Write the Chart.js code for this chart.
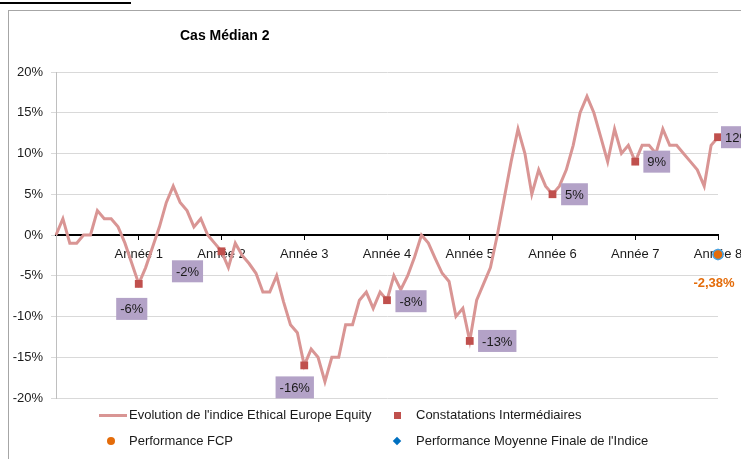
<!DOCTYPE html>
<html><head><meta charset="utf-8">
<script src="https://cdn.jsdelivr.net/npm/chart.js@4/dist/chart.umd.min.js"></script>
<style>
html,body{margin:0;padding:0;background:#fff;}
#wrap{position:relative;width:741px;height:459px;overflow:hidden;font-family:"Liberation Sans",Arial,sans-serif;}
#c{position:absolute;left:0;top:0;}
.topline{position:absolute;left:0;top:2px;width:131px;height:2px;background:#000;}
.frame{position:absolute;left:8px;top:10px;width:760px;height:470px;border-left:1px solid #a6a6a6;border-top:1px solid #a6a6a6;}
#title{position:absolute;left:180px;top:27px;font-weight:bold;font-size:14px;color:#000;white-space:nowrap;}
.leg{position:absolute;font-size:13px;color:#1a1a1a;white-space:nowrap;line-height:16px;}
.sym{position:absolute;}
</style></head>
<body>
<div id="wrap">
  <div class="topline"></div>
  <div class="frame"></div>
  <canvas id="c" width="741" height="459"></canvas>
  <div id="title">Cas Médian 2</div>
  <div class="sym" style="left:99px;top:414px;width:28px;height:3px;background:#d99594;"></div>
  <div class="leg" style="left:129px;top:407px;">Evolution de l'indice Ethical Europe Equity</div>
  <div class="sym" style="left:394px;top:412px;width:7px;height:7px;background:#c0504d;"></div>
  <div class="leg" style="left:416px;top:407px;">Constatations Intermédiaires</div>
  <div class="sym" style="left:107px;top:437px;width:8px;height:8px;border-radius:50%;background:#e46c0a;"></div>
  <div class="leg" style="left:129px;top:433px;">Performance FCP</div>
  <div class="sym" style="left:394px;top:438px;width:6px;height:6px;background:#0070c0;transform:rotate(45deg);"></div>
  <div class="leg" style="left:416px;top:433px;">Performance Moyenne Finale de l'Indice</div>
</div>
<script>
// ---- data ----
const years = ['Année 1','Année 2','Année 3','Année 4','Année 5','Année 6','Année 7','Année 8'];
// monthly index evolution (%), 97 points from start to Année 8
const indexYear1 = [0, 2, -1, -1, 0, 0, 3, 2, 2, 1, -1, -3.5, -6];
const indexYear2 = [-4, -1.5, 1, 4, 6, 4, 3, 1, 2, 0, -1, -2];
const indexYear3 = [-4, -1, -2.5, -3.5, -4.7, -7, -7, -5, -8.2, -11, -12, -16];
const indexYear4 = [-14, -15, -18, -15, -15, -11, -11, -8, -7, -9, -7, -8];
const indexYear5 = [-5, -6.7, -5, -2.7, 0, -1, -2.9, -4.7, -5.7, -10, -9, -13];
const indexYear6 = [-8, -6, -4, 0, 4.5, 9, 13, 10, 5, 8, 6, 5];
const indexYear7 = [6, 8, 11, 15, 17, 15, 12, 9, 13, 10, 11, 9];
const indexYear8 = [11, 11, 10, 13, 11, 11, 10, 9, 8, 6, 11, 12];
const constatations = [-6, -2, -16, -8, -13, 5, 9, 12];
const constatationLabels = ['-6%', '-2%', '-16%', '-8%', '-13%', '5%', '9%', '12%'];
const perfFCP = -2.38;
const perfFCPLabel = '-2,38%';
const perfMoyenneIndice = -2.38;

// ---- layout / style config (not data) ----
const labelOffsets = [[-7,25],[-34,20],[-9.5,22],[24,1],[27.5,0],[22,0],[21.5,0],[20,0]];
const FONT = '"Liberation Sans", Arial, sans-serif';

const indexMonthly = [].concat(indexYear1, indexYear2, indexYear3, indexYear4, indexYear5, indexYear6, indexYear7, indexYear8);
const monthsPerYear = 12;

const labelPlugin = {
  id: 'boxLabels',
  afterDatasetsDraw(chart) {
    const ctx = chart.ctx;
    const meta = chart.getDatasetMeta(1);
    ctx.save();
    ctx.font = '13px ' + FONT;
    ctx.textAlign = 'center';
    ctx.textBaseline = 'middle';
    meta.data.forEach((pt, i) => {
      const [dx, dy] = labelOffsets[i];
      const txt = constatationLabels[i];
      const w = ctx.measureText(txt).width + 8;
      const h = 22;
      const cx = pt.x + dx, cy = pt.y + dy;
      ctx.fillStyle = '#b3a2c7';
      ctx.fillRect(cx - w / 2, cy - h / 2, w, h);
      ctx.fillStyle = '#1a1a1a';
      ctx.fillText(txt, cx, cy + 1);
    });
    const p = chart.getDatasetMeta(3).data[0];
    ctx.font = 'bold 13px ' + FONT;
    ctx.fillStyle = '#e46c0a';
    ctx.fillText(perfFCPLabel, p.x - 4, p.y + 29);
    ctx.restore();
  }
};

new Chart(document.getElementById('c'), {
  type: 'line',
  data: {
    datasets: [
      {
        label: "Evolution de l'indice Ethical Europe Equity",
        data: indexMonthly.map((v, i) => ({x: i, y: v})),
        borderColor: '#d99594', borderWidth: 3, pointRadius: 0, tension: 0,
        clip: false, order: 4
      },
      {
        label: 'Constatations Intermédiaires',
        data: constatations.map((v, k) => ({x: (k + 1) * monthsPerYear, y: v})),
        showLine: false, pointStyle: 'rect', pointRadius: 5.5,
        backgroundColor: '#c0504d', borderColor: '#c0504d', borderWidth: 0,
        clip: false, order: 3
      },
      {
        label: "Performance Moyenne Finale de l'Indice",
        data: [{x: years.length * monthsPerYear, y: perfMoyenneIndice}],
        showLine: false, pointStyle: 'rectRot', pointRadius: 6,
        backgroundColor: '#3a8fd6', borderColor: '#3a8fd6', borderWidth: 0,
        clip: false, order: 2
      },
      {
        label: 'Performance FCP',
        data: [{x: years.length * monthsPerYear, y: perfFCP}],
        showLine: false, pointStyle: 'circle', pointRadius: 5,
        backgroundColor: '#e46c0a', borderColor: '#4aa3e0', borderWidth: 1.5,
        clip: false, order: 1
      }
    ]
  },
  options: {
    responsive: false,
    animation: false,
    events: [],
    layout: {padding: {left: 0, top: 72, right: 23, bottom: 61}},
    plugins: {legend: {display: false}, tooltip: {enabled: false}, title: {display: false}},
    scales: {
      x: {
        type: 'linear', min: 0, max: years.length * monthsPerYear,
        position: {y: 0},
        ticks: {
          stepSize: monthsPerYear, autoSkip: false, maxRotation: 0, padding: 8,
          color: '#1a1a1a', font: {size: 13, family: FONT},
          callback: v => (v > 0 && v % monthsPerYear === 0) ? years[v / monthsPerYear - 1] : ''
        },
        grid: {drawOnChartArea: false, drawTicks: true, tickLength: 4, color: '#000', lineWidth: 1},
        border: {color: '#000', width: 2},
        afterFit: s => { s.paddingLeft = 0; s.paddingRight = 0; }
      },
      y: {
        min: -20, max: 20,
        ticks: {stepSize: 5, padding: 8, color: '#1a1a1a', font: {size: 13, family: FONT},
          callback: v => v + '%'},
        grid: {color: '#d9d9d9', lineWidth: 1, tickLength: 5},
        border: {color: '#bfbfbf', width: 1},
        afterFit: s => { s.width = 56; s.paddingTop = 0; s.paddingBottom = 0; }
      }
    }
  },
  plugins: [labelPlugin]
});
</script>
</body></html>
